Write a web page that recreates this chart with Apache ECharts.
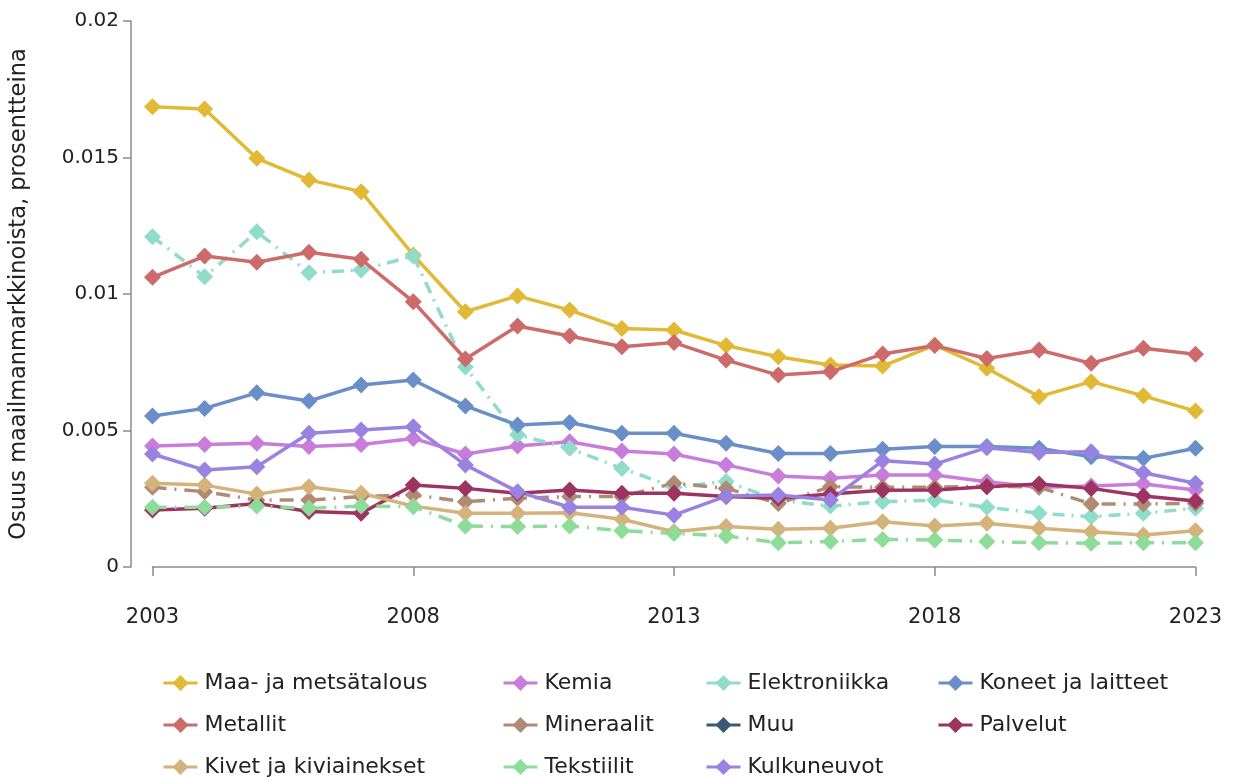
<!DOCTYPE html>
<html>
<head>
<meta charset="utf-8">
<script src="https://cdn.jsdelivr.net/npm/echarts@6/dist/echarts.min.js"></script>
<style>
html,body{margin:0;padding:0;background:#fff;}
#chart{width:1234px;height:778px;}
</style>
</head>
<body>
<div id="chart"></div>
<script>
const years = ['2003','2004','2005','2006','2007','2008','2009','2010','2011','2012','2013','2014','2015','2016','2017','2018','2019','2020','2021','2022','2023'];
const xTickLabels = ['2003','2008','2013','2018','2023'];
const yTickLabels = ['0','0.005','0.01','0.015','0.02'];

const maaJaMetsatalous = [0.01686,0.01678,0.01497,0.01418,0.01375,0.01143,0.00935,0.00993,0.00941,0.00874,0.00868,0.00811,0.0077,0.0074,0.00736,0.00813,0.00728,0.00624,0.00679,0.00627,0.00571];
const metallit = [0.01061,0.01139,0.01116,0.01153,0.01127,0.00972,0.00762,0.00883,0.00846,0.00807,0.00822,0.00758,0.00703,0.00715,0.0078,0.00811,0.00764,0.00795,0.00746,0.00801,0.00779];
const elektroniikka = [0.0121,0.01063,0.01228,0.01078,0.01088,0.01139,0.00733,0.00484,0.00435,0.00361,0.00293,0.00313,0.00245,0.00223,0.00239,0.00245,0.00219,0.00197,0.00184,0.00197,0.00215];
const koneetJaLaitteet = [0.00553,0.00581,0.00638,0.00608,0.00667,0.00685,0.0059,0.0052,0.00529,0.0049,0.0049,0.00453,0.00416,0.00416,0.00431,0.00441,0.00441,0.00435,0.00404,0.00398,0.00435];
const kemia = [0.00443,0.00449,0.00453,0.00441,0.00449,0.00471,0.00414,0.00443,0.00459,0.00425,0.00414,0.00374,0.00333,0.00325,0.00337,0.00337,0.00312,0.00292,0.00297,0.00304,0.00282];
const kulkuneuvot = [0.00414,0.00355,0.00367,0.0049,0.00502,0.00514,0.00374,0.00276,0.00219,0.00219,0.0019,0.0026,0.00264,0.00245,0.00389,0.00377,0.00437,0.00419,0.00422,0.00345,0.00307];
const kivetJaKiviainekset = [0.00307,0.003,0.00267,0.00294,0.0027,0.00223,0.00197,0.00197,0.00199,0.00175,0.00129,0.00148,0.00138,0.00142,0.00166,0.0015,0.0016,0.00142,0.00129,0.00117,0.00133];
const tekstiilit = [0.00219,0.00219,0.00223,0.00215,0.00223,0.00221,0.0015,0.00148,0.0015,0.00133,0.00123,0.00114,0.00089,0.00093,0.00101,0.00099,0.00093,0.00089,0.00087,0.00089,0.00089];
const palvelut = [0.00209,0.00215,0.00233,0.00203,0.00197,0.003,0.00288,0.0027,0.00282,0.0027,0.0027,0.00258,0.00252,0.00267,0.00281,0.00282,0.00294,0.00304,0.00288,0.0026,0.00242];
const mineraalit = [0.00292,0.00276,0.00245,0.00245,0.00258,0.00264,0.00239,0.00252,0.00258,0.00258,0.00307,0.00288,0.00233,0.00294,0.00292,0.00292,0.00297,0.00292,0.00231,0.00231,0.00233];
const muu = [];

const seriesDefs = [
  {name:'Maa- ja metsätalous', data:maaJaMetsatalous, color:'#e2b935', dash:'solid'},
  {name:'Kemia', data:kemia, color:'#c87ddb', dash:'solid'},
  {name:'Elektroniikka', data:elektroniikka, color:'#8fdcc9', dash:[12,7,2,7]},
  {name:'Koneet ja laitteet', data:koneetJaLaitteet, color:'#6a8fc8', dash:'solid'},
  {name:'Metallit', data:metallit, color:'#cd6b6b', dash:'solid'},
  {name:'Mineraalit', data:mineraalit, color:'#b08b74', dash:[14,8,2,8]},
  {name:'Muu', data:muu, color:'#3d5877', dash:'solid'},
  {name:'Palvelut', data:palvelut, color:'#9c3360', dash:'solid'},
  {name:'Kivet ja kiviainekset', data:kivetJaKiviainekset, color:'#d4b27b', dash:'solid'},
  {name:'Tekstiilit', data:tekstiilit, color:'#8edc99', dash:[14,8,2,8]},
  {name:'Kulkuneuvot', data:kulkuneuvot, color:'#9a82e0', dash:'solid'}
];

const FONT = 'DejaVu Sans';
const colLefts = [157, 497, 700, 932];
const rowCenters = [682, 724, 766];
const legends = seriesDefs.map((s, i) => ({
  data: [s.name],
  left: colLefts[i % 4],
  top: rowCenters[Math.floor(i / 4)] - 15,
  itemWidth: 34,
  itemHeight: 20,
  lineStyle: {type: 'solid', width: 3},
  textStyle: {fontFamily: FONT, fontSize: 22, color: '#222', padding: [0,0,0,2]},
  selectedMode: false
}));

const chart = echarts.init(document.getElementById('chart'), null, {renderer: 'canvas'});
chart.setOption({
  animation: false,
  backgroundColor: '#fff',
  grid: {left: 151.5, right: 38.5, top: 21, bottom: 211, containLabel: false},
  legend: legends,
  xAxis: {
    type: 'category',
    data: years,
    boundaryGap: false,
    offset: 21,
    axisLine: {show: true, lineStyle: {color: '#8a8a8a', width: 1.5}},
    axisTick: {show: true, length: 9, interval: 4, lineStyle: {color: '#8a8a8a', width: 1.5}},
    axisLabel: {
      interval: 4, margin: 19, fontFamily: FONT, fontSize: 21, color: '#222',
      formatter: v => xTickLabels.includes(v) ? v : ''
    },
    splitLine: {show: false}
  },
  yAxis: {
    type: 'value',
    min: 0, max: 0.02, interval: 0.005,
    offset: 21.5,
    name: 'Osuus maailmanmarkkinoista, prosentteina',
    nameLocation: 'middle',
    nameGap: 100,
    nameTextStyle: {fontFamily: FONT, fontSize: 22.5, color: '#222'},
    axisLine: {show: true, lineStyle: {color: '#8a8a8a', width: 1.5}},
    axisTick: {show: true, length: 8, lineStyle: {color: '#8a8a8a', width: 1.5}},
    axisLabel: {
      margin: 12, fontFamily: FONT, fontSize: 20, color: '#222',
      formatter: v => yTickLabels[Math.round(v / 0.005)]
    },
    splitLine: {show: false}
  },
  series: seriesDefs.map(s => ({
    name: s.name,
    type: 'line',
    data: s.data,
    color: s.color,
    symbol: 'diamond',
    symbolSize: 17,
    showSymbol: true,
    lineStyle: {width: 3.5, type: s.dash, color: s.color},
    itemStyle: {color: s.color},
    emphasis: {disabled: true}
  }))
});
</script>
</body>
</html>
